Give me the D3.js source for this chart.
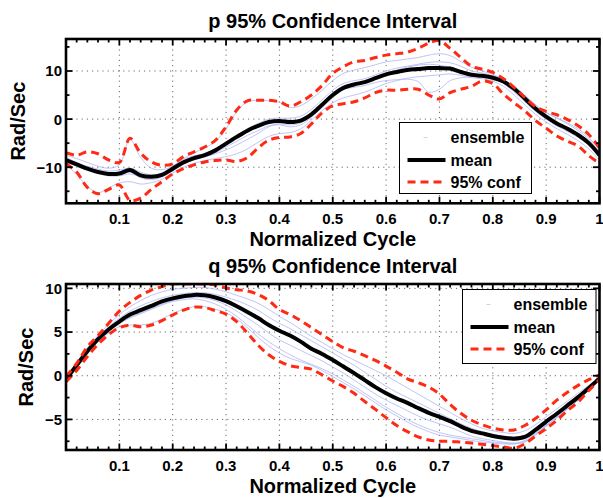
<!DOCTYPE html>
<html>
<head>
<meta charset="utf-8">
<script src="https://cdn.jsdelivr.net/npm/d3@7/dist/d3.min.js"></script>
<style>
  body { margin: 0; background: #fff; }
  svg { display: block; }
  text { font-family: "Liberation Sans", Arial, Helvetica, sans-serif; font-weight: bold; fill: #000; }
</style>
</head>
<body>
<svg id="chart" width="603" height="498"></svg>
<script>
// Sample positions along the normalized cycle
const cycle = [0,0.02,0.04,0.06,0.08,0.10,0.12,0.14,0.16,0.18,0.20,0.22,0.24,0.26,0.28,0.30,0.32,0.34,0.36,0.38,0.40,
  0.42,0.44,0.46,0.48,0.50,0.52,0.54,0.56,0.58,0.60,0.62,0.64,0.66,0.68,0.70,0.72,0.74,0.76,0.78,0.80,
  0.82,0.84,0.86,0.88,0.90,0.92,0.94,0.96,0.98,1.00];

// ---- p (Rad/Sec) ----
const pMean = [-8.5,-9.4,-10.3,-11.0,-11.4,-11.3,-10.6,-11.7,-12.0,-11.6,-10.3,-9.0,-8.1,-7.5,-6.5,-5.1,-3.7,-2.4,-1.4,-0.6,-0.4,
  -0.6,-0.3,1.0,3.0,5.0,6.5,7.2,7.7,8.5,9.3,9.8,10.2,10.4,10.6,10.6,10.5,9.8,9.2,9.0,8.6,
  7.8,6.3,4.3,2.2,0.5,-0.9,-2.0,-3.3,-5.0,-7.5];
const pUpper = [-7.0,-7.5,-6.8,-7.2,-8.5,-9.0,-4.0,-7.1,-8.9,-9.6,-9.3,-7.8,-6.8,-5.8,-4.4,-1.6,1.9,3.8,3.9,3.9,3.6,
  2.7,3.6,5.0,7.0,9.5,10.9,11.9,12.2,12.8,13.3,13.6,13.9,14.7,15.8,16.3,14.7,12.8,11.0,10.4,9.7,
  8.4,6.6,4.5,2.6,1.6,0.9,-0.1,-1.4,-3.2,-6.0];
const pLower = [-9.2,-11.0,-14.2,-15.5,-14.6,-13.7,-16.9,-16.4,-14.6,-13.0,-11.4,-10.3,-9.5,-8.9,-8.6,-8.5,-8.8,-8.0,-6.0,-4.4,-3.8,
  -3.7,-3.0,-1.0,1.3,2.8,3.2,3.6,4.4,5.5,6.0,6.0,6.2,6.2,5.0,4.2,5.5,6.2,6.8,7.9,7.4,
  5.2,3.4,1.7,-0.3,-1.9,-3.5,-4.6,-5.6,-7.6,-9.2];
const pEnsemble = [
  [-7.5,-8.2,-9.0,-9.8,-10.2,-9.5,-4.2,-8.0,-10.2,-10.5,-9.8,-8.2,-7.0,-6.0,-4.6,-2.0,1.5,3.6,3.9,3.8,3.5,
   2.4,2.8,4.2,6.0,8.0,9.5,10.2,10.7,11.3,11.9,12.2,12.5,12.8,13.3,13.6,13.2,12.0,10.8,10.0,9.3,
   8.2,6.6,4.6,2.6,1.3,0.3,-0.8,-2.0,-3.8,-6.5],
  [-9.5,-11.5,-14.0,-15.3,-14.3,-13.3,-13.0,-13.5,-13.2,-12.5,-11.2,-10.0,-9.2,-8.6,-8.2,-7.8,-7.2,-6.2,-4.8,-3.6,-3.0,
   -2.8,-2.0,-0.2,1.8,3.4,4.4,5.0,5.6,6.5,7.4,8.0,8.5,8.8,9.0,9.2,9.4,9.1,8.6,8.4,7.9,
   6.8,5.0,3.0,1.0,-0.6,-2.0,-3.2,-4.5,-6.2,-8.6],
  [-8.0,-9.0,-10.2,-11.2,-11.8,-11.8,-11.4,-12.0,-12.2,-11.8,-10.6,-9.3,-8.5,-7.9,-7.2,-6.4,-5.4,-4.2,-3.0,-1.6,-1.0,
   -1.2,-0.8,0.8,3.0,5.0,6.2,6.6,7.0,7.6,8.0,8.2,8.3,7.8,5.6,6.2,8.0,8.6,8.8,9.2,8.8,
   7.4,5.6,3.6,1.6,0.0,-1.4,-2.6,-3.8,-5.4,-7.8],
  [-8.8,-9.8,-10.6,-11.2,-11.6,-11.6,-11.0,-12.2,-12.6,-12.0,-10.8,-9.4,-8.4,-7.8,-7.0,-5.8,-4.6,-3.4,-2.4,-1.4,-1.2,
   -1.6,-1.2,0.4,2.4,4.4,6.2,7.0,7.6,8.6,9.6,10.2,10.8,11.2,11.4,11.2,10.8,10.0,9.4,9.0,8.6,
   7.8,6.2,4.0,1.8,0.2,-1.2,-2.4,-3.6,-5.2,-7.8],
  [-8.6,-9.2,-9.8,-10.4,-10.8,-10.6,-10.2,-11.0,-11.6,-11.2,-9.8,-8.4,-7.6,-7.2,-6.2,-4.8,-3.4,-2.0,-0.9,0.0,0.2,
   0.2,0.6,2.0,4.0,6.0,7.4,8.0,8.4,9.2,10.0,10.6,11.0,11.4,11.8,11.9,11.7,11.0,10.0,9.6,9.0,
   8.2,6.8,5.0,3.0,1.4,0.2,-1.0,-2.4,-4.2,-7.0]
];

// ---- q (Rad/Sec) ----
const qMean = [-0.4,1.2,2.8,4.2,5.3,6.2,7.0,7.5,8.0,8.5,8.85,9.1,9.25,9.2,8.95,8.55,7.95,7.3,6.6,5.8,5.15,
  4.6,3.9,3.1,2.5,1.8,1.05,0.3,-0.5,-1.3,-2.0,-2.6,-3.1,-3.7,-4.25,-4.7,-5.2,-5.8,-6.3,-6.6,-6.9,
  -7.1,-7.2,-7.0,-6.2,-5.25,-4.35,-3.4,-2.45,-1.4,-0.3];
const qUpper = [-0.1,1.4,3.3,4.6,6.0,7.4,8.4,9.2,9.8,10.2,10.5,10.5,10.5,10.5,10.4,10.05,9.85,9.7,9.3,8.6,7.6,
  7.0,6.3,5.5,4.7,3.9,3.2,2.8,2.3,1.75,1.1,0.4,-0.35,-0.8,-1.3,-2.1,-3.3,-4.3,-5.1,-5.6,-6.0,
  -6.2,-6.2,-5.7,-4.9,-3.9,-2.8,-1.9,-1.1,-0.45,0.1];
const qLower = [-0.7,0.6,2.2,3.6,4.7,5.5,5.8,5.6,5.8,6.3,6.95,7.5,7.85,7.8,7.45,7.05,6.2,4.9,3.5,2.4,1.65,
  1.15,0.95,0.75,0.1,-0.6,-1.25,-2.0,-2.95,-3.85,-4.8,-5.7,-6.4,-7.0,-7.35,-7.5,-7.5,-7.6,-7.7,-7.85,-8.0,
  -8.15,-8.3,-7.8,-6.9,-6.05,-5.1,-4.0,-3.0,-1.7,-0.45];
const qEnsemble = [
  [-0.2,1.5,3.2,4.6,5.9,7.0,7.9,8.6,9.2,9.6,9.9,10.0,10.1,10.1,9.9,9.6,9.2,8.8,8.3,7.6,6.8,
   6.1,5.3,4.5,3.8,3.1,2.4,1.8,1.2,0.6,0.0,-0.7,-1.4,-2.1,-2.8,-3.5,-4.2,-4.9,-5.5,-6.0,-6.3,
   -6.5,-6.6,-6.3,-5.6,-4.7,-3.8,-2.9,-2.0,-1.1,-0.1],
  [-0.6,0.9,2.5,3.9,4.9,5.6,5.8,5.8,6.0,6.5,7.1,7.6,7.9,7.9,7.6,7.2,6.5,5.5,4.4,3.4,2.6,
   2.0,1.6,1.2,0.6,-0.1,-0.8,-1.5,-2.3,-3.1,-3.9,-4.6,-5.3,-5.9,-6.4,-6.8,-7.0,-7.2,-7.4,-7.6,-7.7,
   -7.8,-7.8,-7.4,-6.6,-5.7,-4.8,-3.8,-2.8,-1.6,-0.4],
  [-0.4,1.3,3.0,4.4,5.6,6.6,7.4,8.0,8.5,8.9,9.2,9.4,9.5,9.5,9.3,9.0,8.6,8.1,7.5,6.7,6.0,
   5.4,4.7,4.0,3.3,2.6,1.9,1.2,0.4,-0.4,-1.2,-1.9,-2.5,-3.1,-3.7,-4.3,-4.9,-5.5,-6.0,-6.4,-6.7,
   -6.9,-7.0,-6.8,-6.0,-5.1,-4.2,-3.3,-2.4,-1.4,-0.3],
  [-0.3,1.1,2.6,4.0,5.1,6.0,6.7,7.2,7.7,8.2,8.6,8.9,9.0,8.9,8.6,8.1,7.4,6.6,5.8,4.9,4.1,
   3.5,2.9,2.3,1.7,1.0,0.3,-0.5,-1.3,-2.1,-2.8,-3.4,-4.0,-4.6,-5.1,-5.5,-5.9,-6.4,-6.9,-7.2,-7.4,
   -7.6,-7.7,-7.5,-6.7,-5.7,-4.7,-3.7,-2.7,-1.6,-0.4],
  [-0.5,1.2,2.9,4.3,5.3,6.0,6.6,7.1,7.6,8.1,8.5,8.7,8.8,8.6,8.2,7.6,6.8,5.8,4.8,3.9,3.1,
   2.4,1.8,1.3,0.8,0.2,-0.5,-1.2,-2.0,-2.8,-3.6,-4.3,-5.0,-5.6,-6.1,-6.5,-6.8,-7.0,-7.2,-7.4,-7.6,
   -7.7,-7.8,-7.6,-6.8,-5.8,-4.8,-3.8,-2.8,-1.7,-0.5]
];

// Axis ticks
const xMajorTicks = [0.1,0.2,0.3,0.4,0.5,0.6,0.7,0.8,0.9,1];
const xTickLabels = ["0.1","0.2","0.3","0.4","0.5","0.6","0.7","0.8","0.9","1"];
const xMinorTicks = [0.02,0.04,0.06,0.08,0.12,0.14,0.16,0.18,0.22,0.24,0.26,0.28,0.32,0.34,0.36,0.38,
  0.42,0.44,0.46,0.48,0.52,0.54,0.56,0.58,0.62,0.64,0.66,0.68,0.72,0.74,0.76,0.78,0.82,0.84,0.86,0.88,0.92,0.94,0.96,0.98];
const pYTicks = [-10,0,10];
const pYMinor = [-15,-5,5,15];
const qYTicks = [-5,0,5,10];
const qYMinor = [-7.5,-2.5,2.5,7.5];
const legendLabels = ["ensemble","mean","95% conf"];

const COLORS = { ensemble: "#aab3f4", mean: "#000000", conf: "#ff2a14" };

const svg = d3.select("#chart");
const fmtY = v => (v < 0 ? "\u2212" + Math.abs(v) : String(v));

function drawPanel(cfg) {
  const { id, title, top, bottom, left, right, yDomain, yTicks, yMinor,
          mean, upper, lower, ensemble, legend } = cfg;
  const x = d3.scaleLinear().domain([0, 1]).range([left, right]);
  const y = d3.scaleLinear().domain(yDomain).range([bottom, top]);
  const g = svg.append("g");

  g.append("clipPath").attr("id", "clip-" + id)
    .append("rect").attr("x", left).attr("y", top)
    .attr("width", right - left).attr("height", bottom - top);

  // dotted grid at major ticks
  const grid = g.append("g").attr("stroke", "#6a6a6a").attr("stroke-width", 1)
    .attr("stroke-dasharray", "1.2,4");
  xMajorTicks.filter(t => t < 1).forEach(t => {
    grid.append("line").attr("x1", x(t)).attr("x2", x(t)).attr("y1", top).attr("y2", bottom);
  });
  yTicks.forEach(t => {
    grid.append("line").attr("x1", left).attr("x2", right).attr("y1", y(t)).attr("y2", y(t));
  });

  // series
  const line = d3.line()
    .x((d, i) => x(cycle[i]))
    .y(d => y(d))
    .curve(d3.curveCatmullRom.alpha(0.5));
  const plot = g.append("g").attr("clip-path", `url(#clip-${id})`);
  ensemble.forEach(s => {
    plot.append("path").attr("d", line(s)).attr("fill", "none")
      .attr("stroke", COLORS.ensemble).attr("stroke-width", 0.9).attr("stroke-opacity", 0.85);
  });
  plot.append("path").attr("d", line(mean)).attr("fill", "none")
    .attr("stroke", COLORS.mean).attr("stroke-width", 4).attr("stroke-linejoin", "round");
  [upper, lower].forEach(s => {
    plot.append("path").attr("d", line(s)).attr("fill", "none")
      .attr("stroke", COLORS.conf).attr("stroke-width", 3)
      .attr("stroke-dasharray", "8,5");
  });

  // inward ticks on all four sides
  const ticks = g.append("g").attr("stroke", "#000").attr("stroke-width", 1.8);
  const tickX = (vals, len) => vals.forEach(t => {
    ticks.append("line").attr("x1", x(t)).attr("x2", x(t)).attr("y1", bottom).attr("y2", bottom - len);
    ticks.append("line").attr("x1", x(t)).attr("x2", x(t)).attr("y1", top).attr("y2", top + len);
  });
  const tickY = (vals, len) => vals.forEach(t => {
    ticks.append("line").attr("x1", left).attr("x2", left + len).attr("y1", y(t)).attr("y2", y(t));
    ticks.append("line").attr("x1", right).attr("x2", right - len).attr("y1", y(t)).attr("y2", y(t));
  });
  tickX(xMajorTicks, 6.5);
  tickX(xMinorTicks, 3.5);
  tickY(yTicks, 6.5);
  tickY(yMinor, 3.5);

  // frame
  g.append("rect").attr("x", left).attr("y", top)
    .attr("width", right - left).attr("height", bottom - top)
    .attr("fill", "none").attr("stroke", "#000").attr("stroke-width", 2.6);

  // tick labels
  xMajorTicks.forEach((t, i) => {
    g.append("text").attr("x", x(t)).attr("y", bottom + 20.5)
      .attr("text-anchor", "middle").attr("font-size", 15).text(xTickLabels[i]);
  });
  yTicks.forEach(t => {
    g.append("text").attr("x", left - 4).attr("y", y(t)).attr("dy", "0.36em")
      .attr("text-anchor", "end").attr("font-size", 15).text(fmtY(t));
  });

  // titles
  const cx = (left + right) / 2;
  g.append("text").attr("x", cx).attr("y", top - 11.5).attr("text-anchor", "middle")
    .attr("font-size", 20).text(title);
  g.append("text").attr("x", cx).attr("y", bottom + 42.5).attr("text-anchor", "middle")
    .attr("font-size", 20).text("Normalized Cycle");
  g.append("text")
    .attr("transform", `translate(${cfg.yLabelX},${(top + bottom) / 2}) rotate(-90)`)
    .attr("text-anchor", "middle").attr("font-size", 20).text("Rad/Sec");

  // legend
  const L = g.append("g");
  L.append("rect").attr("x", legend.x).attr("y", legend.y)
    .attr("width", legend.w).attr("height", legend.h)
    .attr("fill", "#fff").attr("stroke", "#000").attr("stroke-width", 1);
  const rowY = [legend.y + 15, legend.y + 37.5, legend.y + 59.5];
  const sx0 = legend.x + 8, sx1 = legend.x + 46;
  L.append("line").attr("x1", sx0 + 16).attr("x2", sx0 + 20).attr("y1", rowY[0]).attr("y2", rowY[0])
    .attr("stroke", COLORS.ensemble).attr("stroke-width", 1).attr("stroke-opacity", 0.6);
  L.append("line").attr("x1", sx0).attr("x2", sx1).attr("y1", rowY[1]).attr("y2", rowY[1])
    .attr("stroke", COLORS.mean).attr("stroke-width", 4);
  L.append("line").attr("x1", sx0).attr("x2", sx1).attr("y1", rowY[2]).attr("y2", rowY[2])
    .attr("stroke", COLORS.conf).attr("stroke-width", 3).attr("stroke-dasharray", "8,5");
  legendLabels.forEach((lab, i) => {
    L.append("text").attr("x", legend.x + 51).attr("y", rowY[i]).attr("dy", "0.36em")
      .attr("font-size", 16).text(lab);
  });
}

drawPanel({
  id: "p", title: "p 95% Confidence Interval",
  top: 39, bottom: 203.3, left: 66, right: 599.5,
  yDomain: [-17.5, 16.65], yTicks: pYTicks, yMinor: pYMinor,
  mean: pMean, upper: pUpper, lower: pLower, ensemble: pEnsemble,
  yLabelX: 25,
  legend: { x: 399.5, y: 122.5, w: 132, h: 71 }
});

drawPanel({
  id: "q", title: "q 95% Confidence Interval",
  top: 284, bottom: 450, left: 66, right: 599.5,
  yDomain: [-8.5, 10.5], yTicks: qYTicks, yMinor: qYMinor,
  mean: qMean, upper: qUpper, lower: qLower, ensemble: qEnsemble,
  yLabelX: 33,
  legend: { x: 462.5, y: 289.5, w: 133.5, h: 74 }
});
</script>
</body>
</html>
